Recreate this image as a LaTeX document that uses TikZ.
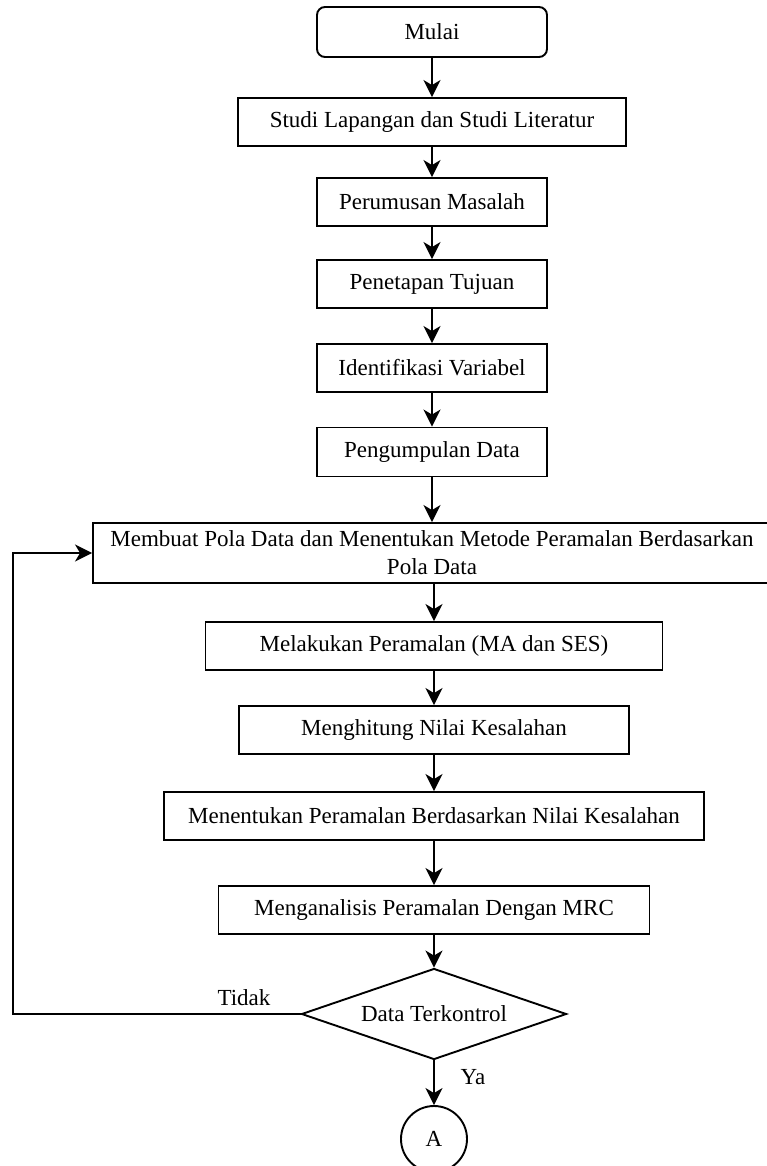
\documentclass[tikz,border=0pt]{standalone}
\usepackage{fontspec}
\setmainfont{Liberation Serif}
\usetikzlibrary{shapes.geometric,arrows.meta,positioning}

\begin{document}
\begin{tikzpicture}[
    x=1pt, y=-1pt,
    every node/.style={font=\fontsize{23}{28}\selectfont},
    stepbox/.style={draw, line width=1.9pt, rectangle, inner sep=0pt,
        minimum height=48pt, align=center},
    startbox/.style={stepbox, rounded corners=8pt, minimum height=50pt},
    decision/.style={draw, line width=1.9pt, diamond, aspect=2.9, inner sep=0pt,
        minimum width=265pt, minimum height=91pt},
    connector/.style={draw, line width=1.9pt, circle, inner sep=0pt, minimum size=66pt},
    flow/.style={line width=1.9pt, -{Stealth[length=17pt, width=17pt, inset=5pt]}}
]

% Page frame
\useasboundingbox (0,0) rectangle (766,1166);

% Start
\node[startbox, minimum width=230pt] (mulai) at (432,32) {Mulai};

% Process steps
\node[stepbox, minimum width=388pt] (studi) at (432,122) {Studi Lapangan dan Studi Literatur};
\node[stepbox, minimum width=230pt] (rumusan) at (432,202) {Perumusan Masalah};
\node[stepbox, minimum width=230pt] (tujuan) at (432,284) {Penetapan Tujuan};
\node[stepbox, minimum width=230pt] (variabel) at (432,368) {Identifikasi Variabel};
\node[stepbox, minimum width=230pt, minimum height=49pt] (data) at (432,452) {Pengumpulan Data};
\node[stepbox, minimum width=678pt, minimum height=60pt] (pola) at (432,553)
    {Membuat Pola Data dan Menentukan Metode Peramalan Berdasarkan\\Pola Data};
\node[stepbox, minimum width=457pt] (ramal) at (434,646) {Melakukan Peramalan (MA dan SES)};
\node[stepbox, minimum width=390pt] (hitung) at (434,730) {Menghitung Nilai Kesalahan};
\node[stepbox, minimum width=540pt] (pilih) at (434,816) {Menentukan Peramalan Berdasarkan Nilai Kesalahan};
\node[stepbox, minimum width=431pt] (mrc) at (434,910) {Menganalisis Peramalan Dengan MRC};

% Decision and off-page connector
\node[decision] (kontrol) at (434,1014) {Data Terkontrol};
\node[connector] (konA) at (434,1139) {A};

% Main flow
\draw[flow] (mulai) -- (studi);
\draw[flow] (studi) -- (rumusan);
\draw[flow] (rumusan) -- (tujuan);
\draw[flow] (tujuan) -- (variabel);
\draw[flow] (variabel) -- (data);
\draw[flow] (data) -- (data |- pola.north);
\draw[flow] (pola.south -| ramal) -- (ramal);
\draw[flow] (ramal) -- (hitung);
\draw[flow] (hitung) -- (pilih);
\draw[flow] (pilih) -- (mrc);
\draw[flow] (mrc) -- (kontrol);
\draw[flow] (kontrol) -- (konA);

% Loop back when not controlled
\coordinate (loopA) at (13,1014);
\coordinate (loopB) at (13,553);
\draw[flow] (kontrol.west) -- (loopA) -- (loopB) -- (pola.west);

% Branch labels
\node (tidak) at (244,998) {Tidak};
\node (ya) at (473,1077) {Ya};

\end{tikzpicture}
\end{document}
